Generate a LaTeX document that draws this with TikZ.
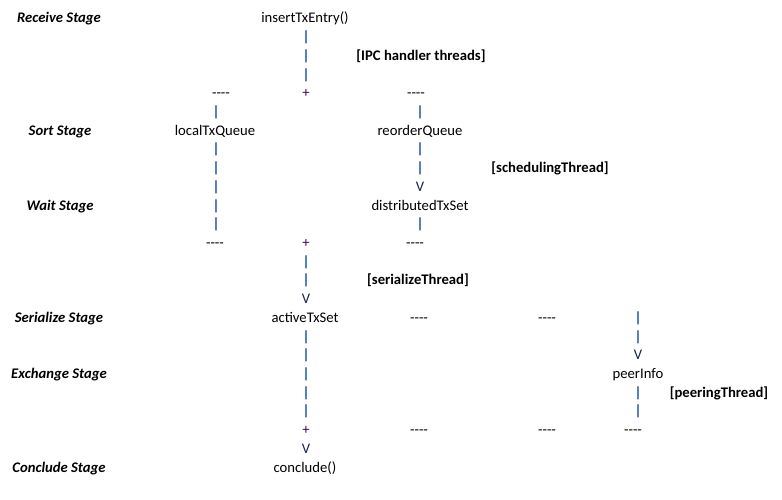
\documentclass[tikz,border=0pt]{standalone}
\usepackage{fontspec}
\setmainfont{Carlito}
\definecolor{pipecol}{RGB}{20,75,165}
\definecolor{pluscol}{RGB}{80,0,80}
\definecolor{veecol}{RGB}{25,35,75}
\newcommand\RY[1]{-23-18.71*#1}
\newcommand\dsh{{-}{-}{-}{-}}
\begin{document}
\begin{tikzpicture}[x=1pt,y=1pt,
  t/.style={inner sep=0pt,anchor=base,font=\fontsize{14.67}{17}\selectfont},
  stage/.style={t,font=\fontsize{14.67}{17}\selectfont\bfseries\itshape},
  thr/.style={t,font=\fontsize{14.67}{17}\selectfont\bfseries},
  pipe/.style={t,text=pipecol,font=\fontsize{14.67}{17}\selectfont\bfseries},
  plus/.style={t,text=pluscol},
  vee/.style={t,text=veecol},
  dashes/.style={t}]
\useasboundingbox[fill=white] (0,0) rectangle (782,-500);
% stage labels
\node[stage] (s1) at (59,{\RY{0}}) {Receive Stage};
\node[stage] (s2) at (60,{\RY{6}}) {Sort Stage};
\node[stage] (s3) at (60,{\RY{10}}) {Wait Stage};
\node[stage] (s4) at (59,{\RY{16}}) {Serialize Stage};
\node[stage] (s5) at (59,{\RY{19}}) {Exchange Stage};
\node[stage] (s6) at (59,{\RY{24}}) {Conclude Stage};
% thread labels
\node[thr] (th1) at (421,{\RY{2}}) {[IPC handler threads]};
\node[thr] (th2) at (550,{\RY{8}}) {[schedulingThread]};
\node[thr] (th3) at (418,{\RY{14}}) {[serializeThread]};
\node[thr] (th4) at (719,{\RY{20}}) {[peeringThread]};
% main items
\node[t] (ins) at (305,{\RY{0}}) {insertTxEntry()};
\node[t] (ltq) at (215,{\RY{6}}) {localTxQueue};
\node[t] (roq) at (420,{\RY{6}}) {reorderQueue};
\node[t] (dts) at (420,{\RY{10}}) {distributedTxSet};
\node[t] (ats) at (305,{\RY{16}}) {activeTxSet};
\node[t] (pin) at (638,{\RY{19}}) {peerInfo};
\node[t] (ccl) at (305,{\RY{24}}) {conclude()};
% central column
\node[pipe] (c1) at (306,{\RY{1}}) {|};
\node[pipe] (c2) at (306,{\RY{2}}) {|};
\node[pipe] (c3) at (306,{\RY{3}}) {|};
\node[plus] (p1) at (306,{\RY{4}}) {+};
\node[plus] (p2) at (306,{\RY{12}}) {+};
\node[pipe] (c4) at (306,{\RY{13}}) {|};
\node[pipe] (c5) at (306,{\RY{14}}) {|};
\node[vee]  (v1) at (306,{\RY{15}}) {V};
\node[pipe] (c6) at (306,{\RY{17}}) {|};
\node[pipe] (c7) at (306,{\RY{18}}) {|};
\node[pipe] (c8) at (306,{\RY{19}}) {|};
\node[pipe] (c9) at (306,{\RY{20}}) {|};
\node[pipe] (c10) at (306,{\RY{21}}) {|};
\node[plus] (p3) at (306,{\RY{22}}) {+};
\node[vee]  (v2) at (306,{\RY{23}}) {V};
% left column
\node[dashes] (d1) at (221,{\RY{4}}) {\dsh};
\node[pipe] (l1) at (216,{\RY{5}}) {|};
\node[pipe] (l2) at (216,{\RY{7}}) {|};
\node[pipe] (l3) at (216,{\RY{8}}) {|};
\node[pipe] (l4) at (216,{\RY{9}}) {|};
\node[pipe] (l5) at (216,{\RY{10}}) {|};
\node[pipe] (l6) at (216,{\RY{11}}) {|};
\node[dashes] (d2) at (215,{\RY{12}}) {\dsh};
% right column
\node[dashes] (d3) at (416,{\RY{4}}) {\dsh};
\node[pipe] (r1) at (420,{\RY{5}}) {|};
\node[pipe] (r2) at (420,{\RY{7}}) {|};
\node[pipe] (r3) at (420,{\RY{8}}) {|};
\node[vee]  (v3) at (420,{\RY{9}}) {V};
\node[pipe] (r4) at (420,{\RY{11}}) {|};
\node[dashes] (d4) at (415,{\RY{12}}) {\dsh};
% serialize / exchange row
\node[dashes] (d5) at (419,{\RY{16}}) {\dsh};
\node[dashes] (d6) at (547,{\RY{16}}) {\dsh};
\node[pipe] (e1) at (638,{\RY{16}}) {|};
\node[pipe] (e2) at (638,{\RY{17}}) {|};
\node[vee]  (v4) at (638,{\RY{18}}) {V};
\node[pipe] (e3) at (638,{\RY{20}}) {|};
\node[pipe] (e4) at (638,{\RY{21}}) {|};
\node[dashes] (d7) at (419,{\RY{22}}) {\dsh};
\node[dashes] (d8) at (547,{\RY{22}}) {\dsh};
\node[dashes] (d9) at (633,{\RY{22}}) {\dsh};
\end{tikzpicture}
\end{document}
